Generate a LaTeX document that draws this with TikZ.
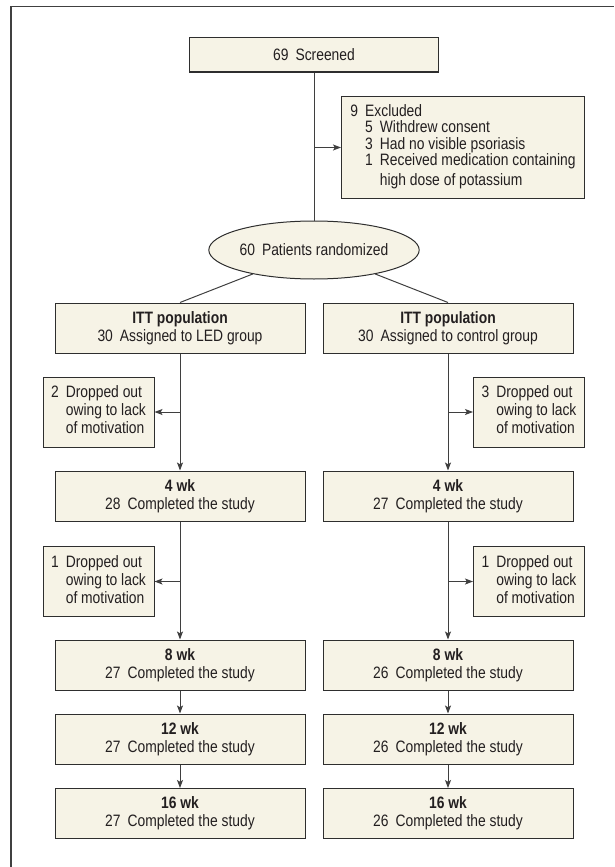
\documentclass[tikz,border=0pt]{standalone}
\usepackage{fontspec}
\setmainfont{Liberation Sans}[FakeStretch=0.84]
\usetikzlibrary{arrows.meta,shapes.geometric,shadows}
\definecolor{boxfill}{HTML}{F6F3E6}
\definecolor{boxline}{HTML}{2E2E2E}
\definecolor{txtcol}{HTML}{231F20}
\definecolor{conncol}{HTML}{3F3F3F}
\definecolor{framecol}{HTML}{404040}
\newcommand\numgap{\hspace{7pt}}
\begin{document}
\begin{tikzpicture}[x=1pt,y=-1pt,
  font=\fontsize{16.5}{18}\selectfont, text=txtcol,
  box/.style={draw=boxline, fill=boxfill, line width=1pt, inner sep=0pt, align=center,
    drop shadow={shadow xshift=0.8pt,shadow yshift=-0.8pt,fill=black!35,opacity=1}},
  mainbox/.style={box, minimum width=250pt, minimum height=50pt},
  dropbox/.style={box, minimum width=111pt, minimum height=70pt},
  conn/.style={draw=conncol, line width=1pt},
  arr/.style={conn, -{Stealth[length=8pt,width=6pt,inset=1.8pt]}},
]
\useasboundingbox (0,0) rectangle (614,867);
\draw[draw=framecol, line width=1.3pt] (11,867) -- (11,6.5) -- (614,6.5);

% top
\node[box, minimum width=249pt, minimum height=34pt] (scr) at (314,55) {69\numgap Screened};
\node[box, minimum width=243pt, minimum height=102pt, anchor=north west] (exc) at (341,96)
  {\begin{tabular}{@{}l@{\numgap}l@{\numgap}l@{}}
   9 & \multicolumn{2}{@{}l@{}}{Excluded}\\[-1.7pt]
     & 5 & Withdrew consent\\[-1.7pt]
     & 3 & Had no visible psoriasis\\[-1.7pt]
     & 1 & Received medication containing\\[2pt]
     &   & high dose of potassium
   \end{tabular}};
\node[ellipse, draw=boxline, fill=boxfill, line width=1pt, inner sep=0pt,
  minimum width=204pt, minimum height=58pt] (rand) at (314,250) {60\numgap Patients randomized};

% columns
\node[mainbox] (ittl) at (180,328) {\textbf{ITT population}\\30\numgap Assigned to LED group};
\node[mainbox] (ittr) at (448,328) {\textbf{ITT population}\\30\numgap Assigned to control group};

\node[dropbox] (dal) at (98.5,412) {\begin{tabular}{@{}l@{\numgap}l@{}}2 & Dropped out\\ & owing to lack\\ & of motivation\end{tabular}};
\node[dropbox] (dar) at (529,412) {\begin{tabular}{@{}l@{\numgap}l@{}}3 & Dropped out\\ & owing to lack\\ & of motivation\end{tabular}};

\node[mainbox] (w4l) at (180,496) {\textbf{4 wk}\\28\numgap Completed the study};
\node[mainbox] (w4r) at (448,496) {\textbf{4 wk}\\27\numgap Completed the study};

\node[dropbox] (dbl) at (98.5,581.5) {\begin{tabular}{@{}l@{\numgap}l@{}}1 & Dropped out\\ & owing to lack\\ & of motivation\end{tabular}};
\node[dropbox] (dbr) at (529,581.5) {\begin{tabular}{@{}l@{\numgap}l@{}}1 & Dropped out\\ & owing to lack\\ & of motivation\end{tabular}};

\node[mainbox] (w8l) at (180,665) {\textbf{8 wk}\\27\numgap Completed the study};
\node[mainbox] (w8r) at (448,665) {\textbf{8 wk}\\26\numgap Completed the study};
\node[mainbox] (w12l) at (180,739) {\textbf{12 wk}\\27\numgap Completed the study};
\node[mainbox] (w12r) at (448,739) {\textbf{12 wk}\\26\numgap Completed the study};
\node[mainbox] (w16l) at (180,813.5) {\textbf{16 wk}\\27\numgap Completed the study};
\node[mainbox] (w16r) at (448,813.5) {\textbf{16 wk}\\26\numgap Completed the study};

% connectors
\draw[conn] (scr.south) -- (rand.north);
\draw[arr] (scr.south |- exc.west) -- (exc.west);
\draw[conn] (rand) -- (ittl.north);
\draw[conn] (rand) -- (ittr.north);

\draw[arr] (ittl.south) -- (w4l.north);
\draw[arr] (ittr.south) -- (w4r.north);
\draw[arr] (ittl.south |- dal.east) -- (dal.east);
\draw[arr] (ittr.south |- dar.west) -- (dar.west);

\draw[arr] (w4l.south) -- (w8l.north);
\draw[arr] (w4r.south) -- (w8r.north);
\draw[arr] (w4l.south |- dbl.east) -- (dbl.east);
\draw[arr] (w4r.south |- dbr.west) -- (dbr.west);

\draw[arr] (w8l.south) -- (w12l.north);
\draw[arr] (w8r.south) -- (w12r.north);
\draw[arr] (w12l.south) -- (w16l.north);
\draw[arr] (w12r.south) -- (w16r.north);
\end{tikzpicture}
\end{document}
